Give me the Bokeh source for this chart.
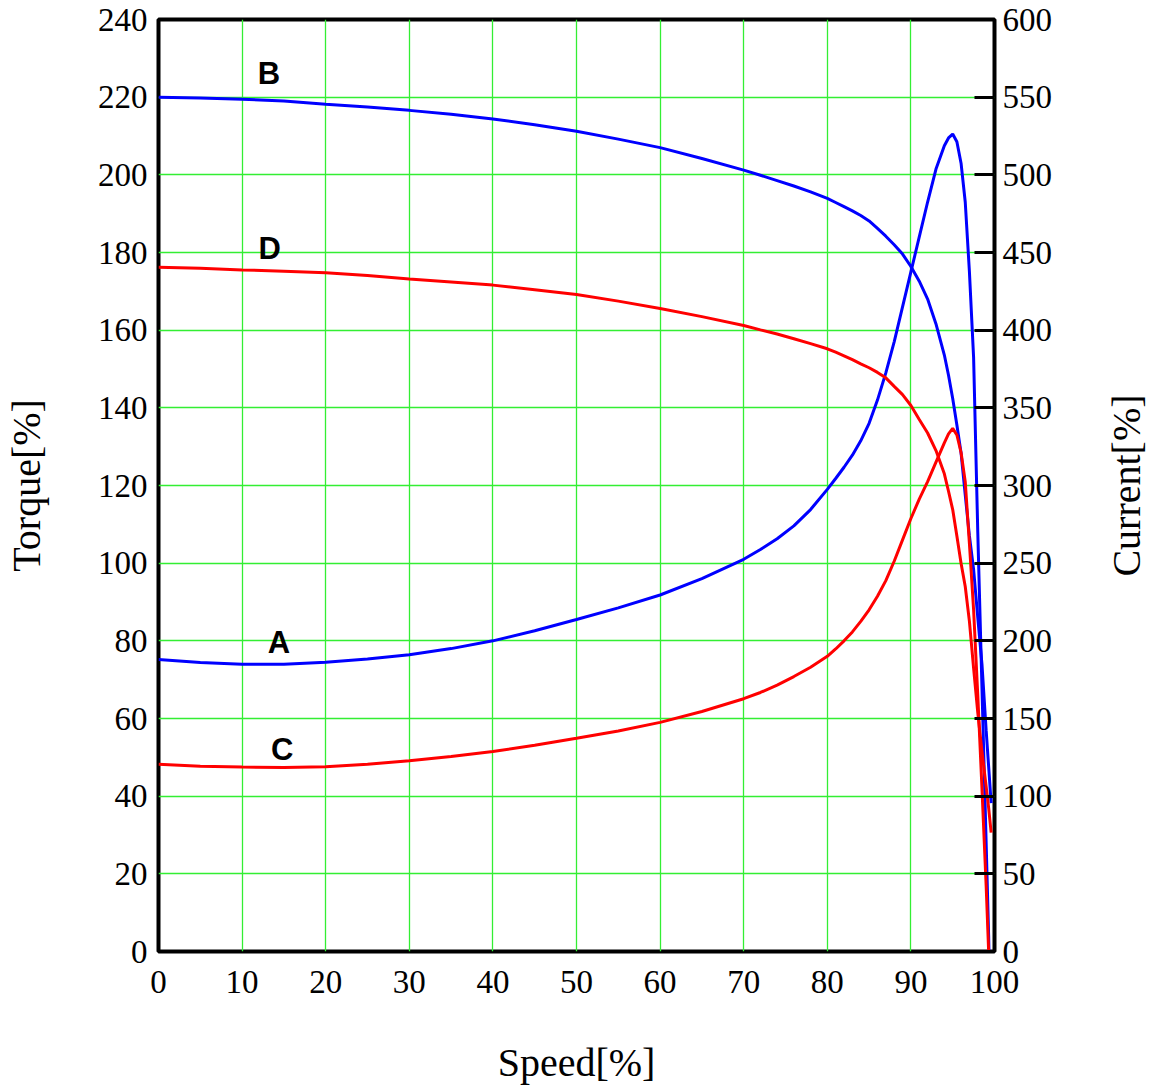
import math
from bokeh.plotting import figure
from bokeh.layouts import row
from bokeh.models import Range1d, LinearAxis, FixedTicker
from bokeh.embed import file_html
from bokeh.resources import INLINE
from bokeh.core.properties import value

# ---- data ----
speed = [0, 5, 10, 15, 20, 25, 30, 35, 40, 45, 50, 55, 60, 65, 70, 72, 74, 76, 78,
         80, 81, 82, 83, 84, 85, 86, 87, 88, 89, 90, 91, 92, 93, 94, 94.5, 95, 95.5,
         96, 96.5, 97, 97.5, 98, 98.5, 99, 99.3, 99.6]

# A: torque (blue), left axis
torque_a = [75.2, 74.4, 74.0, 74.0, 74.5, 75.3, 76.4, 78.0, 80.0, 82.6, 85.5, 88.5,
            91.8, 96.0, 101.0, 103.5, 106.3, 109.6, 113.8, 119.0, 121.8, 124.7, 127.8,
            131.5, 136.0, 142.0, 149.0, 157.0, 166.0, 175.0, 184.0, 193.0, 201.5, 207.5,
            209.5, 210.5, 208.5, 203.0, 193.0, 175.0, 153.0, 108.0, 68.0, 28.0, 4.0, -30.0]
# B: current (blue), right axis
current_b = [550, 549.5, 548.7, 547.5, 545.5, 543.7, 541.5, 539, 536, 532.3, 528, 523,
             517.5, 510.5, 503, 499.7, 496.3, 492.8, 489, 484.8, 482.2, 479.5, 476.8,
             473.8, 470.3, 465.5, 460.5, 455, 449, 441, 431.5, 420, 404, 384, 371,
             356, 339, 321, 294, 267.5, 246, 215, 185, 142.5, 119, 95.5]
# C: torque (red), left axis
torque_c = [48.2, 47.7, 47.5, 47.4, 47.6, 48.2, 49.1, 50.2, 51.5, 53.1, 54.9, 56.8,
            59.0, 61.8, 65.1, 66.7, 68.6, 70.8, 73.2, 76.0, 77.9, 80.0, 82.3, 85.0,
            88.0, 91.5, 95.5, 100.5, 106.0, 111.5, 116.5, 121.0, 126.0, 131.0, 133.3,
            134.7, 133.0, 128.5, 121.0, 105.0, 88.0, 66.0, 42.0, 17.0, 0.0, -20.0]
# D: current (red), right axis
current_d = [440.5, 439.8, 438.8, 438, 437, 435.2, 433, 431, 429, 426, 423, 418.7,
             414, 408.7, 403, 400.2, 397.5, 394.5, 391.3, 388, 385.8, 383.5, 381,
             378.3, 375.8, 372.8, 369.3, 363.8, 358.5, 351.5, 342.5, 333.8, 322.5, 307.5,
             296.3, 284.5, 267.5, 250, 235, 212.5, 182.5, 153.8, 128.8, 106.3, 92.5, 76.5]

x_ticks = list(range(0, 101, 10))
torque_ticks = list(range(0, 241, 20))
current_ticks = list(range(0, 601, 50))

curve_labels = ["A", "B", "C", "D"]
curve_label_x = [14.4, 13.2, 14.8, 13.3]
curve_label_y = [79.5, 226.0, 52.0, 181.0]

GRID = "#33ee33"
SERIF = "Liberation Serif"
H = 1088
TOP = 19
BOTTOM = 137

p = figure(width=1064, height=H, x_range=Range1d(0, 100), y_range=Range1d(0, 240),
           output_backend="svg", toolbar_location=None,
           min_border_top=TOP, min_border_left=5, min_border_right=70, min_border_bottom=5)
p.extra_y_ranges = {"current": Range1d(0, 600)}

p.outline_line_color = "black"
p.outline_line_width = 4
p.outline_line_alpha = 1.0

p.xgrid.ticker = FixedTicker(ticks=x_ticks)
p.ygrid.ticker = FixedTicker(ticks=torque_ticks)
for g in (p.xgrid, p.ygrid):
    g.grid_line_color = GRID
    g.grid_line_width = 1.3


def style_axis(ax, label_standoff, axis_label_standoff):
    ax.axis_line_color = None
    ax.minor_tick_line_color = None
    ax.major_label_text_font = SERIF
    ax.major_label_text_font_size = "33px"
    ax.major_label_text_color = "black"
    ax.major_label_standoff = label_standoff
    ax.axis_label_text_font = SERIF
    ax.axis_label_text_font_size = "40px"
    ax.axis_label_text_font_style = "normal"
    ax.axis_label_text_color = "black"
    ax.axis_label_standoff = axis_label_standoff


xax = p.xaxis[0]
xax.ticker = FixedTicker(ticks=x_ticks)
xax.axis_label = "Speed[%]"
xax.major_tick_line_color = None
style_axis(xax, 13, 44)

yax = p.yaxis[0]
yax.ticker = FixedTicker(ticks=torque_ticks)
yax.axis_label = "Torque[%]"
yax.major_tick_line_color = None
style_axis(yax, 5, 46)

rax = LinearAxis(y_range_name="current", ticker=FixedTicker(ticks=current_ticks))
rax.major_tick_in = 20
rax.major_tick_out = 0
rax.major_tick_line_width = 3
rax.major_tick_line_color = "black"
style_axis(rax, 8, 0)
p.add_layout(rax, "right")

p.line(speed, torque_a, line_color="blue", line_width=3)
p.line(speed, current_b, line_color="blue", line_width=3, y_range_name="current")
p.line(speed, torque_c, line_color="red", line_width=3)
p.line(speed, current_d, line_color="red", line_width=3, y_range_name="current")

p.text(x=curve_label_x, y=curve_label_y, text=curve_labels,
       text_font=value("Liberation Sans"), text_font_style="bold",
       text_font_size="31px", text_align="center", text_baseline="middle",
       text_color="black")

# narrow companion figure carrying the right-hand title (reads bottom-to-top)
p2 = figure(width=90, height=H, x_range=Range1d(0, 1), y_range=Range1d(0, 600),
            output_backend="svg", toolbar_location=None,
            min_border_top=TOP, min_border_left=84, min_border_right=0,
            min_border_bottom=BOTTOM)
p2.xaxis.visible = False
p2.xgrid.visible = False
p2.ygrid.visible = False
p2.outline_line_color = None
t_ax = p2.yaxis[0]
t_ax.ticker = FixedTicker(ticks=[])
t_ax.major_tick_line_color = None
t_ax.axis_label = "Current[%]"
style_axis(t_ax, 0, 0)

layout = row(p, p2)

open("out.html", "w").write(file_html(layout, INLINE))
